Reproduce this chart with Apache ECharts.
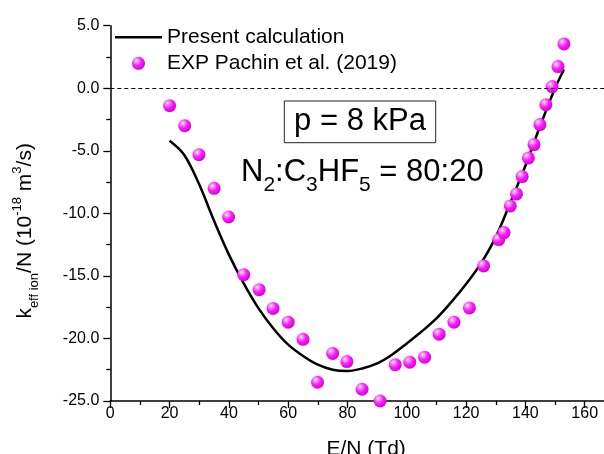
<!DOCTYPE html>
<html>
<head>
<meta charset="utf-8">
<script src="https://cdn.jsdelivr.net/npm/echarts@6/dist/echarts.min.js"></script>
<style>html,body{margin:0;padding:0;background:#fff}#c{width:604px;height:454px}</style>
</head>
<body>
<div id="c"></div>
<script>
// Present calculation (E/N in Td, k/N in 1e-18 m^3/s)
var calcE = [20, 25, 30, 35, 40, 45, 50, 55, 60, 65, 70, 75, 80, 85, 90, 95, 100, 105, 110, 115, 120, 125, 130, 135, 140, 145, 150, 153];
var calcK = [-4.2, -5.35, -7.7, -10.6, -13.3, -15.6, -17.6, -19.2, -20.5, -21.4, -22.1, -22.5, -22.6, -22.4, -22.0, -21.3, -20.4, -19.45, -18.4, -17.1, -15.65, -14.0, -11.9, -9.1, -6.2, -3.0, 0.0, 1.5];
// EXP Pachin et al. (2019)
var expE = [20, 25.1, 29.9, 35, 39.9, 45, 50.2, 54.9, 60, 65, 69.9, 75, 79.8, 84.9, 91, 96.1, 101, 106, 110.9, 115.9, 121.1, 125.9, 131, 132.8, 134.9, 137, 138.9, 141, 142.9, 144.9, 146.9, 149, 151, 153];
var expK = [-1.39, -2.99, -5.31, -8.0, -10.29, -14.9, -16.1, -17.6, -18.7, -20.07, -23.5, -21.2, -21.85, -24.06, -25.0, -22.1, -21.9, -21.5, -19.66, -18.7, -17.56, -14.2, -12.1, -11.54, -9.41, -8.45, -7.06, -5.57, -4.5, -2.9, -1.31, 0.13, 1.73, 3.54];
var seriesNames = ['Present calculation', 'EXP Pachin et al. (2019)'];

var FONT = 'Liberation Sans, Arial, sans-serif';
var calcData = calcE.map(function (e, i) { return [e, calcK[i]]; });
var expData = expE.map(function (e, i) { return [e, expK[i]]; });

var sphere = new echarts.graphic.RadialGradient(0.36, 0.32, 0.72, [
  { offset: 0, color: '#ffffff' },
  { offset: 0.18, color: '#ff9cff' },
  { offset: 0.5, color: '#ff1cff' },
  { offset: 1, color: '#d000d0' }
]);

var chart = echarts.init(document.getElementById('c'), null, { renderer: 'canvas' });
chart.setOption({
  animation: false,
  backgroundColor: '#fff',
  textStyle: { fontFamily: FONT },
  grid: { left: 110.3, top: 25.7, bottom: 53, right: -40, containLabel: false, outerBoundsMode: 'none' },
  legend: {
    orient: 'vertical', left: 115, top: 26.8, padding: 0,
    itemWidth: 47, itemHeight: 13, itemGap: 5,
    textStyle: { fontFamily: FONT, fontSize: 21, color: '#000' },
    data: [
      { name: seriesNames[0], icon: 'path://M0,0H47V2.5H0Z' },
      { name: seriesNames[1] }
    ]
  },
  xAxis: {
    type: 'value', min: 0, max: 180, interval: 20,
    name: 'E/N (Td)', nameLocation: 'middle', nameGap: 38,
    nameTextStyle: { fontFamily: FONT, fontSize: 21, color: '#000', padding: [0, 22, 0, 0] },
    axisLine: { show: true, onZero: false, lineStyle: { color: '#000', width: 1.5 } },
    axisTick: { show: true, inside: false, length: 7, lineStyle: { color: '#000', width: 1.3 } },
    minorTick: { show: true, splitNumber: 2, length: 4, lineStyle: { color: '#000', width: 1.3 } },
    axisLabel: { fontFamily: FONT, fontSize: 16, color: '#000', margin: 5 },
    splitLine: { show: false }
  },
  yAxis: {
    type: 'value', min: -25, max: 5, interval: 5,
    name: '{m|k}{sb|eff ion}{m|/N (10}{sp|-18}{m| m}{sp|3}{m|/s)}',
    nameLocation: 'middle', nameRotate: 90, nameGap: 81,
    nameTextStyle: {
      fontFamily: FONT, color: '#000', padding: [0, 35, 0, 0],
      rich: {
        m: { fontFamily: FONT, fontSize: 21, lineHeight: 21, verticalAlign: 'top', padding: [6, 0, 0, 0], color: '#000' },
        sp: { fontFamily: FONT, fontSize: 13, lineHeight: 13, verticalAlign: 'top', padding: [3, 0, 0, 0], color: '#000' },
        sb: { fontFamily: FONT, fontSize: 13, lineHeight: 13, verticalAlign: 'top', padding: [19.5, 0, 0, 0], color: '#000' }
      }
    },
    axisLine: { show: true, onZero: false, lineStyle: { color: '#000', width: 1.5 } },
    axisTick: { show: true, inside: false, length: 7, lineStyle: { color: '#000', width: 1.3 } },
    minorTick: { show: true, splitNumber: 2, length: 4, lineStyle: { color: '#000', width: 1.3 } },
    axisLabel: { fontFamily: FONT, fontSize: 16, color: '#000', margin: 11, formatter: function (v) { return v.toFixed(1); } },
    splitLine: { show: false }
  },
  series: [
    {
      name: seriesNames[0], type: 'line', data: calcData, symbol: 'none', smooth: 0.35,
      lineStyle: { color: '#000', width: 2.5 }, itemStyle: { color: '#000' }, z: 2,
      markLine: {
        silent: true, symbol: 'none', label: { show: false },
        lineStyle: { color: '#000', width: 1, type: [4, 3] },
        data: [{ yAxis: 0 }]
      }
    },
    {
      name: seriesNames[1], type: 'scatter', data: expData, symbol: 'circle', symbolSize: 13,
      itemStyle: { color: sphere, opacity: 1 }, z: 3
    }
  ],
  graphic: [
    {
      type: 'rect', shape: { x: 284.3, y: 101, width: 151.4, height: 41.7 },
      style: { fill: 'none', stroke: '#222', lineWidth: 1 }, z: 10
    },
    {
      type: 'text', x: 360, y: 121.5,
      style: { text: 'p = 8 kPa', fontFamily: FONT, fontSize: 31, fill: '#000', align: 'center', verticalAlign: 'middle' }, z: 10
    },
    {
      type: 'text', x: 241, y: 157.3,
      style: {
        text: '{m|N}{s|2}{m|:C}{s|3}{m|HF}{s|5}{m| = 80:20}',
        fontFamily: FONT, fill: '#000', align: 'left', verticalAlign: 'top',
        rich: {
          m: { fontFamily: FONT, fontSize: 31, lineHeight: 31, verticalAlign: 'top', fill: '#000' },
          s: { fontFamily: FONT, fontSize: 21, lineHeight: 21, verticalAlign: 'top', padding: [17, 0, 0, 0], fill: '#000' }
        }
      }, z: 10
    }
  ]
});
</script>
</body>
</html>
